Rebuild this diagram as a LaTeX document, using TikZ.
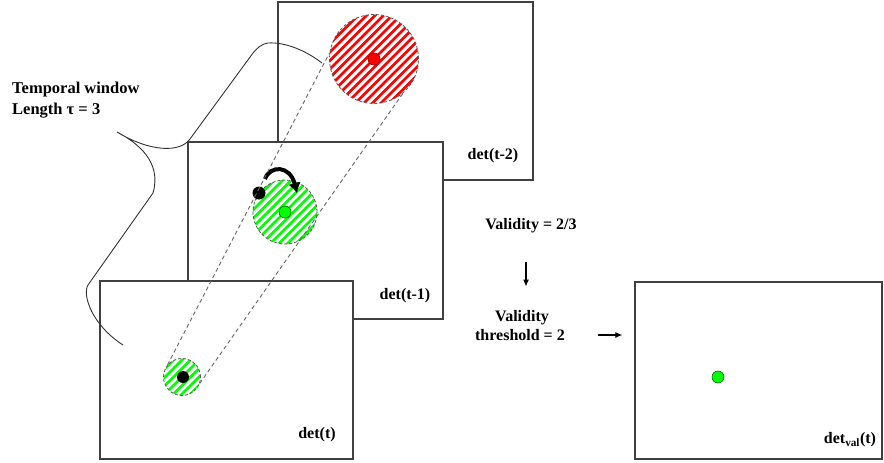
\documentclass[tikz,border=0pt]{standalone}
\usepackage{fontspec}
\setmainfont{Liberation Serif}
\usetikzlibrary{positioning,arrows.meta}
\tikzset{det frame/.style={draw=black!75,line width=1.2pt,fill=white,inner sep=0pt},
  det label/.style={font=\fontsize{16}{19}\selectfont\bfseries,inner sep=0pt},
  det dot/.style={circle,inner sep=0pt,minimum size=12pt,line width=0.6pt},
  hatch/.style={circle,inner sep=0pt,draw=black!65,line width=0.8pt,
    dash pattern=on 3pt off 2pt,
    path picture={\foreach \d in {-102,-93.5,...,102}
      \draw[#1,line width=2.7pt,solid]
        ([shift={(\d-60,60)}]path picture bounding box.center) --
        ([shift={(\d+60,-60)}]path picture bounding box.center);}},
  track line/.style={draw=black!60,line width=0.9pt,dash pattern=on 4pt off 3pt},
  window brace/.style={draw=black!80,line width=0.9pt},
  turn arrow/.style={line width=4pt,-{Latex[length=10pt,width=13pt]}},
  flow arrow/.style={line width=1.1pt,-{Latex[length=7pt,width=6pt]}}}

\begin{document}
\begin{tikzpicture}[x=1pt,y=-1pt]
  \useasboundingbox (0,0) rectangle (884,463);
  % frame t-2
  \node[det frame,minimum width=255pt,minimum height=178pt] (f2) at (405.5,91) {};
  \node[hatch=red,minimum size=89pt] (rc) at (374,59) {};
  \node[det dot,fill=red,draw=red!55!black] (rd) at (374,59) {};
  \node[det label] (l2) at (493,156) {det(t-2)};
  % frame t-1
  \node[det frame,minimum width=255pt,minimum height=177pt] (f1) at (315.5,230.5) {};
  \node[hatch=green,minimum size=64pt] (gc) at (285,212) {};
  \node[det dot,fill=green,draw=green!40!black] (gd) at (285,212) {};
  \node[det dot,fill=black,minimum size=13pt] (bk) at (259,193) {};
  \coordinate (turn-a) at (265,179);
  \coordinate (turn-b) at (297,193);
  \draw[turn arrow] (turn-a) .. controls (270,165) and (290,165) .. (turn-b);
  \node[det label] (l1) at (405,296) {det(t-1)};
  % frame t
  \node[det frame,minimum width=253pt,minimum height=178pt] (f0) at (226.5,370) {};
  \node[hatch=green,minimum size=37pt] (sg) at (182,377) {};
  \node[det dot,fill=black] (sd) at (183,377) {};
  \node[det label] (l0) at (317,435) {det(t)};
  % track through the window
  \draw[track line] (sg.140) -- (rc.172);
  \draw[track line] (sg.-20) -- (rc.-50);
  % brace of the temporal window
  \draw[window brace] (322,63) .. controls (305,50) and (285,42) .. (268,43)
    .. controls (262,44) and (258,47) .. (253,53) -- (190,139)
    .. controls (180,153) and (150,152) .. (117,132)
    .. controls (138,143) and (162,162) .. (153,193) -- (88,285)
    .. controls (82,295) and (92,325) .. (123,345);
  \node[det label,font=\fontsize{16.5}{21}\selectfont\bfseries,align=left,anchor=north west] (tw) at (12,82)
    {Temporal window\\Length τ = 3};
  % validation
  \node[det label] (v1) at (531,225.5) {Validity = 2/3};
  \node[det label] (v2) at (522,318) {Validity};
  \node[det label] (v3) at (520,335) {threshold = 2};
  \draw[flow arrow,shorten <=29pt,shorten >=24pt] ([xshift=-5pt]v1.south) -- ([xshift=4pt]v2.north);
  \node[det frame,minimum width=247pt,minimum height=177pt] (fv) at (758.5,370.5) {};
  \draw[flow arrow,shorten <=33pt,shorten >=12pt] (v3.east) -- (v3 -| fv.west);
  \node[det dot,fill=green,draw=green!40!black] (vd) at (718,377) {};
  \node[det label] (lv) at (850,440) {det\textsubscript{val}(t)};
\end{tikzpicture}
\end{document}
